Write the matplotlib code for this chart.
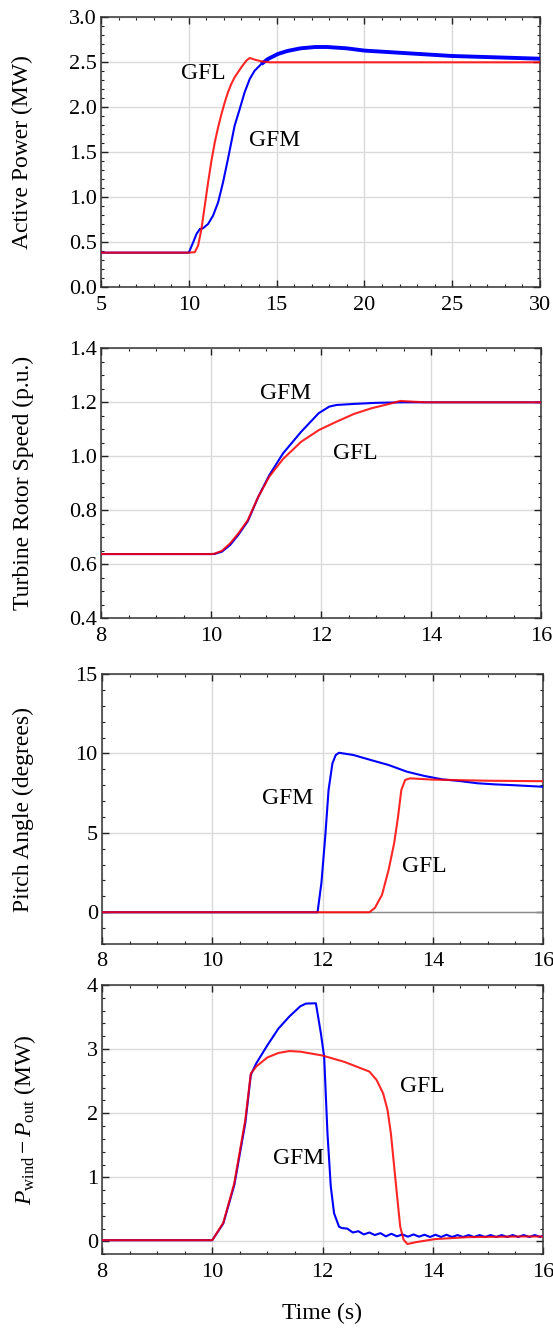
import matplotlib
matplotlib.use("Agg")
import matplotlib.pyplot as plt
from matplotlib.ticker import MultipleLocator, FormatStrFormatter

plt.rcParams['font.family'] = ['Liberation Serif', 'DejaVu Serif']
plt.rcParams['mathtext.fontset'] = 'custom'
plt.rcParams['mathtext.rm'] = 'Liberation Serif'
plt.rcParams['mathtext.it'] = 'Liberation Serif:italic'

# ---------------- Data ----------------
# Panel 1: active power (MW)
t1_gfl = [5, 10.0, 10.34, 10.53, 10.72, 10.91, 11.10, 11.29, 11.48, 11.67, 11.86, 12.05,
          12.23, 12.42, 12.61, 12.80, 12.99, 13.28, 13.47, 13.75, 14.13, 14.6, 30]
p1_gfl = [0.385, 0.385, 0.39, 0.463, 0.648, 0.907, 1.167, 1.407, 1.611, 1.778, 1.926, 2.056,
          2.167, 2.259, 2.333, 2.389, 2.444, 2.519, 2.548, 2.53, 2.511, 2.50, 2.50]
t1_gfm = [5, 10.0, 10.25, 10.44, 10.63, 10.81, 11.1, 11.38, 11.67, 11.95, 12.23, 12.42,
          12.61, 12.9, 13.18, 13.47, 13.75, 14.13, 14.51, 15.08, 15.6, 16.35, 17.2, 17.87,
          19.0, 20, 22.5, 25, 27.5, 30]
p1_gfm = [0.385, 0.385, 0.5, 0.593, 0.648, 0.656, 0.704, 0.796, 0.944, 1.167, 1.426, 1.611,
          1.796, 1.981, 2.167, 2.315, 2.407, 2.481, 2.537, 2.593, 2.625, 2.655, 2.67, 2.67,
          2.655, 2.63, 2.60, 2.57, 2.555, 2.54]

# Panel 2: turbine rotor speed (p.u.)
t2_gfl = [8, 10.0, 10.06, 10.2, 10.35, 10.5, 10.67, 10.86, 11.06, 11.31, 11.64, 11.96, 12.28,
          12.6, 12.92, 13.24, 13.44, 13.7, 13.9, 16]
w2_gfl = [0.638, 0.638, 0.639, 0.65, 0.678, 0.715, 0.764, 0.85, 0.925, 0.99, 1.054, 1.097,
          1.128, 1.157, 1.178, 1.194, 1.205, 1.202, 1.20, 1.20]
t2_gfm = [8, 10.0, 10.06, 10.2, 10.35, 10.5, 10.67, 10.86, 11.06, 11.31, 11.64, 11.96, 12.15,
          12.28, 12.6, 13.0, 13.5, 16]
w2_gfm = [0.638, 0.638, 0.638, 0.647, 0.672, 0.71, 0.76, 0.85, 0.93, 1.011, 1.091, 1.16,
          1.184, 1.19, 1.194, 1.198, 1.20, 1.20]

# Panel 3: pitch angle (degrees)
t3_gfm = [8, 11.91, 11.98, 12.05, 12.11, 12.18, 12.24, 12.3, 12.56, 12.88, 13.2, 13.53, 13.85,
          14.17, 14.49, 14.81, 15.13, 15.46, 16]
b3_gfm = [0, 0, 1.84, 4.77, 7.7, 9.37, 9.9, 10.04, 9.9, 9.58, 9.27, 8.85, 8.58, 8.37, 8.26,
          8.12, 8.05, 8.0, 7.9]
t3_gfl = [8, 12.85, 12.95, 13.08, 13.2, 13.3, 13.37, 13.43, 13.5, 13.59, 14.0, 15.0, 16]
b3_gfl = [0, 0, 0.27, 1.1, 2.68, 4.35, 6.0, 7.7, 8.33, 8.43, 8.35, 8.28, 8.25]

# Panel 4: P_wind - P_out (MW)
t4_gfl = [8, 10.0, 10.2, 10.4, 10.6, 10.7, 10.8, 11.0, 11.2, 11.4, 11.6, 12.0, 12.4, 12.85,
          12.98, 13.10, 13.18, 13.24, 13.30, 13.36, 13.41, 13.47, 13.54, 13.7, 14.04, 14.65,
          15.63, 16]
d4_gfl = [0.02, 0.02, 0.29, 0.91, 1.9, 2.62, 2.73, 2.87, 2.94, 2.97, 2.96, 2.9, 2.8, 2.65,
          2.52, 2.31, 2.05, 1.69, 1.17, 0.65, 0.23, 0.03, -0.04, -0.01, 0.037, 0.068,
          0.078, 0.078]
t4_gfm = [8, 10.0, 10.2, 10.4, 10.6, 10.7, 10.8, 11.0, 11.2, 11.4, 11.6, 11.7, 11.88, 11.97,
          12.03, 12.09, 12.15, 12.21, 12.3, 12.35, 12.45, 12.55, 12.65, 12.75, 12.85, 12.95,
          13.05, 13.15, 13.25, 13.35, 13.45, 13.55, 13.65, 13.75, 13.85, 13.95, 14.05, 14.15,
          14.25, 14.35, 14.45, 14.55, 14.65, 14.75, 14.85, 14.95, 15.05, 15.15, 15.25, 15.35,
          15.45, 15.55, 15.65, 15.75, 15.85, 15.95, 16.0]
d4_gfm = [0.02, 0.02, 0.28, 0.88, 1.85, 2.6, 2.78, 3.06, 3.32, 3.51, 3.67, 3.71, 3.715, 3.25,
          2.88, 1.69, 0.86, 0.44, 0.23, 0.21, 0.20, 0.14, 0.16, 0.11, 0.14, 0.10,
          0.13, 0.08, 0.12, 0.08, 0.11, 0.075, 0.11, 0.075, 0.105, 0.07, 0.105, 0.07,
          0.105, 0.07, 0.10, 0.07, 0.10, 0.07, 0.10, 0.07, 0.10, 0.07, 0.10, 0.07,
          0.10, 0.07, 0.10, 0.07, 0.10, 0.07, 0.09]

# ---------------- Figure ----------------
W, H = 553, 1328
fig = plt.figure(figsize=(W / 100, H / 100), dpi=100)

def axes_px(l, t, r, b):
    return fig.add_axes([l / W, 1 - b / H, (r - l) / W, (b - t) / H])

BLUE = '#0000ff'
RED = '#ff0000'
GRID = '#dadada'
FS_TICK = 16
FS_TXT = 17

def style(ax, xlim, ylim, xmaj, xmin, ymaj, ymin, yfmt, ylabel, lbl_x=22):
    ax.set_xlim(*xlim)
    ax.set_ylim(*ylim)
    ax.xaxis.set_major_locator(MultipleLocator(xmaj))
    ax.xaxis.set_minor_locator(MultipleLocator(xmin))
    ax.yaxis.set_major_locator(MultipleLocator(ymaj))
    ax.yaxis.set_minor_locator(MultipleLocator(ymin))
    ax.yaxis.set_major_formatter(FormatStrFormatter(yfmt))
    ax.grid(True, which='major', color=GRID, lw=1.0, zorder=0)
    ax.set_axisbelow(True)
    ax.tick_params(which='both', direction='in', top=True, right=True,
                   colors='#222222', labelcolor='black', labelsize=FS_TICK)
    ax.tick_params(which='major', length=5, width=1.0)
    ax.tick_params(which='minor', length=2.5, width=0.8)
    ax.tick_params(axis='x', which='major', pad=6)
    ax.tick_params(axis='y', which='major', pad=3)
    for s in ax.spines.values():
        s.set_color('#333333')
        s.set_linewidth(1.1)
    ax.set_ylabel(ylabel, fontsize=FS_TXT, ha='center', va='center')
    bb = ax.get_position()
    ax.yaxis.set_label_coords((lbl_x - bb.x0 * W) / (bb.width * W), 0.5)

LW = 1.5

# Panel 1
ax1 = axes_px(101, 17.3, 540, 287.3)
ax1.plot(t1_gfm, p1_gfm, color=BLUE, lw=LW, zorder=3)
i0 = t1_gfm.index(14.13)
ax1.plot(t1_gfm[i0:], p1_gfm[i0:], color=BLUE, lw=2.8, zorder=3, solid_capstyle='butt')
ax1.plot(t1_gfl, p1_gfl, color=RED, lw=LW, alpha=0.85, zorder=4)
style(ax1, (5, 30), (0, 3.0), 5, 1, 0.5, 0.1, '%.1f', 'Active Power (MW)')
ax1.text(10.85, 2.38, 'GFL', fontsize=FS_TXT, ha='center', va='center')
ax1.text(14.9, 1.63, 'GFM', fontsize=FS_TXT, ha='center', va='center')

# Panel 2
ax2 = axes_px(101, 348.3, 541, 618.3)
ax2.plot(t2_gfm, w2_gfm, color=BLUE, lw=LW, zorder=3)
ax2.plot(t2_gfl, w2_gfl, color=RED, lw=LW, alpha=0.85, zorder=4)
style(ax2, (8, 16), (0.4, 1.4), 2, 0.5, 0.2, 0.05, '%.1f', 'Turbine Rotor Speed (p.u.)', 23)
ax2.text(11.35, 1.231, 'GFM', fontsize=FS_TXT, ha='center', va='center')
ax2.text(12.63, 1.009, 'GFL', fontsize=FS_TXT, ha='center', va='center')

# Panel 3
ax3 = axes_px(102, 674, 543, 944)
ax3.axhline(0, color='#8c8c8c', lw=1.0, zorder=2)
ax3.plot(t3_gfm, b3_gfm, color=BLUE, lw=LW, zorder=3)
ax3.plot(t3_gfl, b3_gfl, color=RED, lw=LW, alpha=0.85, zorder=4)
style(ax3, (8, 16), (-2, 15), 2, 0.5, 5, 1, '%g', 'Pitch Angle (degrees)', 23)
ax3.text(11.37, 7.18, 'GFM', fontsize=FS_TXT, ha='center', va='center')
ax3.text(13.85, 2.85, 'GFL', fontsize=FS_TXT, ha='center', va='center')

# Panel 4
ax4 = axes_px(102, 985, 543, 1254.3)
ax4.plot(t4_gfm, d4_gfm, color=BLUE, lw=LW, zorder=3)
ax4.plot(t4_gfl, d4_gfl, color=RED, lw=LW, alpha=0.85, zorder=4)
style(ax4, (8, 16), (-0.2, 4), 2, 0.5, 1, 0.2, '%g',
      r'$P_{\mathrm{wind}} - P_{\mathrm{out}}$ (MW)', 25)
ax4.text(13.81, 2.42, 'GFL', fontsize=FS_TXT, ha='center', va='center')
ax4.text(11.56, 1.30, 'GFM', fontsize=FS_TXT, ha='center', va='center')
ax4.set_xlabel('Time (s)', fontsize=FS_TXT, labelpad=15)

fig.savefig('out.png', dpi=100)
